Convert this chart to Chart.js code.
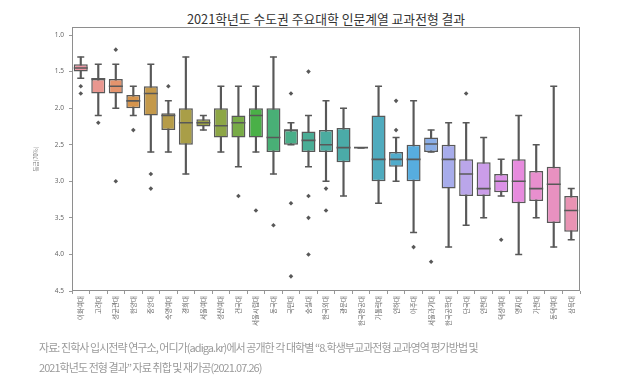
<!DOCTYPE html>
<html>
<head>
<meta charset="utf-8">
<script src="https://cdn.jsdelivr.net/npm/chart.js@4.4.1/dist/chart.umd.min.js"></script>
<style>
  body { margin: 0; background: #fff; width: 631px; height: 390px; overflow: hidden; position: relative;
         font-family: "Noto Sans CJK KR", "Noto Sans", sans-serif; }
  #title { position: absolute; top: 9px; left: 0; width: 652px; text-align: center; font-size: 12.8px; color: #333; }
  #chart { position: absolute; top: 0; left: 0; }
  #source { position: absolute; top: 337px; left: 39px; font-size: 11px; line-height: 20px; color: #9a9a9a;
            letter-spacing: -0.95px; }
</style>
</head>
<body>
<div id="title">2021학년도 수도권 주요대학 인문계열 교과전형 결과</div>
<canvas id="chart" width="631" height="340"></canvas>
<div id="source">자료: 진학사 입시전략 연구소, 어디가(adiga.kr)에서 공개한 각 대학별 “8.학생부교과전형 교과영역 평가방법 및<br>2021학년도 전형 결과” 자료 취합 및 재가공(2021.07.26)</div>
<script>
// 대학 목록 (등급 순)
var universities = ['이화여대', '고려대', '성균관대', '한양대', '중앙대', '숙명여대', '경희대', '서울여대',
    '성신여대', '건국대', '서울시립대', '동국대', '국민대', '숭실대', '한국외대', '광운대', '한국항공대',
    '가톨릭대', '인하대', '아주대', '서울과기대', '한국공학대', '단국대', '인천대', '덕성여대', '명지대',
    '가천대', '동덕여대', '삼육대'];

// 상자그림 값 (등급 70% 컷)
var whiskerLow = [1.3, 1.4, 1.4, 1.7, 1.4, 1.9, 1.3, 2.1, 1.7, 1.7, 1.7, 1.3, 2.2, 2.1, 1.9, 2.0, 2.54,
    1.7, 2.4, 1.9, 2.3, 2.2, 2.2, 2.4, 2.7, 2.1, 2.5, 1.7, 3.1];
var q1 = [1.4, 1.6, 1.6, 1.82, 1.7, 2.07, 2.0, 2.15, 2.0, 2.1, 2.0, 2.0, 2.3, 2.32, 2.3, 2.27, 2.54,
    2.1, 2.6, 2.5, 2.4, 2.5, 2.7, 2.74, 2.9, 2.7, 2.86, 2.8, 3.2];
var medians = [1.45, 1.6, 1.7, 1.9, 1.8, 2.1, 2.2, 2.2, 2.24, 2.2, 2.1, 2.4, 2.3, 2.44, 2.5, 2.54, 2.54,
    2.7, 2.7, 2.7, 2.49, 2.7, 2.9, 3.1, 3.0, 3.0, 3.1, 3.04, 3.4];
var q3 = [1.5, 1.8, 1.8, 2.0, 2.1, 2.3, 2.5, 2.25, 2.4, 2.4, 2.4, 2.6, 2.5, 2.6, 2.6, 2.74, 2.54,
    3.0, 2.8, 3.0, 2.6, 3.1, 3.2, 3.2, 3.15, 3.3, 3.27, 3.57, 3.69];
var whiskerHigh = [1.59, 2.1, 2.0, 2.1, 2.6, 2.6, 2.9, 2.3, 2.6, 2.8, 2.6, 2.9, 2.5, 2.8, 3.0, 3.2, 2.54,
    3.3, 3.0, 3.7, 2.6, 3.9, 3.6, 3.5, 3.2, 4.0, 3.5, 3.9, 3.8];
var outliers = [[1.7, 1.8], [2.2], [1.2, 3.0], [2.3], [2.9, 3.1], [1.7], [], [], [], [3.2], [3.4], [3.6],
    [1.8, 3.3, 4.3], [1.5, 3.2, 3.5, 4.0], [3.1, 3.4], [], [], [], [1.9, 2.3], [3.9], [4.1], [], [1.8],
    [], [3.8], [], [], [], []];
var yTicks = [1.0, 1.5, 2.0, 2.5, 3.0, 3.5, 4.0, 4.5];

// seaborn husl 팔레트 흉내
var M = [[3.2406, -1.5372, -0.4986], [-0.9689, 1.8758, 0.0415], [0.0557, -0.2040, 1.0570]];
var kappa = 24389 / 27, epsilon = 216 / 24389;
function maxChroma(L, H) {
    var sub1 = Math.pow(L + 16, 3) / 1560896;
    var sub2 = sub1 > epsilon ? sub1 : L / kappa;
    var hrad = H / 180 * Math.PI, best = Infinity;
    M.forEach(function(m) {
        [0, 1].forEach(function(t) {
            var top1 = (284517 * m[0] - 94839 * m[2]) * sub2;
            var top2 = (838422 * m[2] + 769860 * m[1] + 731718 * m[0]) * L * sub2 - 769860 * t * L;
            var bottom = (632260 * m[2] - 126452 * m[1]) * sub2 + 126452 * t;
            var len = (top2 / bottom) / (Math.sin(hrad) - (top1 / bottom) * Math.cos(hrad));
            if (len > 0) best = Math.min(best, len);
        });
    });
    return best;
}
function huslToRgb(h, s, l) {
    var c = maxChroma(l, h) / 100 * s;
    var hr = h / 180 * Math.PI;
    var u = Math.cos(hr) * c, v = Math.sin(hr) * c;
    var Y = l <= 8 ? l / kappa : Math.pow((l + 16) / 116, 3);
    var vu = u / (13 * l) + 0.19784, vv = v / (13 * l) + 0.46834;
    var X = 9 * Y * vu / (4 * vv);
    var Z = (9 * Y - 15 * vv * Y - vv * X) / (3 * vv);
    return M.map(function(r) {
        var x = r[0] * X + r[1] * Y + r[2] * Z;
        x = x <= 0.0031308 ? 12.92 * x : 1.055 * Math.pow(x, 1 / 2.4) - 0.055;
        return Math.min(1, Math.max(0, x));
    });
}
function toHsl(rgb) {
    var r = rgb[0], g = rgb[1], b = rgb[2];
    var mx = Math.max(r, g, b), mn = Math.min(r, g, b), l = (mx + mn) / 2, h = 0, s = 0;
    if (mx !== mn) {
        var d = mx - mn;
        s = l > 0.5 ? d / (2 - mx - mn) : d / (mx + mn);
        if (mx === r) h = (g - b) / d + (g < b ? 6 : 0);
        else if (mx === g) h = (b - r) / d + 2;
        else h = (r - g) / d + 4;
        h *= 60;
    }
    return [h, s, l];
}
var n = universities.length;
var boxColors = universities.map(function(u, i) {
    var hue = ((i / n + 0.01) % 1) * 359;
    var hsl = toHsl(huslToRgb(hue, 0.9 * 99, 0.7 * 99));
    return 'hsl(' + hsl[0].toFixed(1) + ',' + (hsl[1] * 75).toFixed(1) + '%,' + (hsl[2] * 100).toFixed(1) + '%)';
});
var gray = '#585858';

var outlierPoints = [];
outliers.forEach(function(list, i) {
    list.forEach(function(v) { outlierPoints.push({x: universities[i], y: v}); });
});

var framePlugin = {
    id: 'frame',
    afterDraw: function(chart) {
        var a = chart.chartArea, ctx = chart.ctx;
        ctx.save();
        ctx.strokeStyle = '#8e8e8e';
        ctx.lineWidth = 1;
        ctx.strokeRect(a.left + 0.5, a.top + 0.5, a.right - a.left - 1, a.bottom - a.top - 1);
        ctx.restore();
    }
};

var ctx = document.getElementById('chart').getContext('2d');
var boxChart = new Chart(ctx, {
    type: 'bar',
    data: {
        labels: universities,
        datasets: [{
            type: 'line',
            label: '이상치',
            data: outlierPoints,
            showLine: false,
            pointStyle: 'rectRot',
            pointRadius: 2.3,
            pointBackgroundColor: gray,
            pointBorderColor: gray,
            pointBorderWidth: 0,
            order: 1
        }, {
            type: 'line',
            label: '중앙값',
            data: medians,
            showLine: false,
            pointStyle: 'line',
            pointRadius: 7,
            pointBorderColor: gray,
            pointBorderWidth: 1.6,
            order: 1
        }, {
            label: '상자',
            data: q1.map(function(v, i) { return [v, q3[i]]; }),
            backgroundColor: boxColors,
            borderColor: gray,
            borderWidth: 1.5,
            borderSkipped: false,
            barPercentage: 0.8,
            categoryPercentage: 1,
            grouped: false,
            order: 2
        }, {
            type: 'line',
            label: '상단',
            data: whiskerLow,
            showLine: false,
            pointStyle: 'line',
            pointRadius: 3.5,
            pointBorderColor: gray,
            pointBorderWidth: 1.5,
            order: 3
        }, {
            type: 'line',
            label: '하단',
            data: whiskerHigh,
            showLine: false,
            pointStyle: 'line',
            pointRadius: 3.5,
            pointBorderColor: gray,
            pointBorderWidth: 1.5,
            order: 3
        }, {
            label: '수염',
            data: whiskerLow.map(function(v, i) { return [v, whiskerHigh[i]]; }),
            backgroundColor: gray,
            borderWidth: 0,
            barThickness: 1.5,
            grouped: false,
            order: 4
        }]
    },
    options: {
        responsive: false,
        animation: false,
        devicePixelRatio: 1,
        layout: { padding: { top: 27, left: 33, right: 51, bottom: 4 } },
        plugins: { legend: { display: false }, tooltip: { enabled: false }, title: { display: false } },
        scales: {
            x: {
                grid: { drawOnChartArea: false, drawTicks: true, tickLength: 3, color: '#999' },
                border: { display: false },
                ticks: { autoSkip: false, minRotation: 90, maxRotation: 90, padding: 2, color: '#666',
                         font: { size: 6.5, family: '"Noto Sans CJK KR"' } },
                afterFit: function(scale) { scale.height = 45; }
            },
            y: {
                reverse: true,
                min: 0.89,
                max: 4.5,
                grid: { drawOnChartArea: false, drawTicks: true, tickLength: 3, color: '#999' },
                border: { display: false },
                afterBuildTicks: function(scale) {
                    scale.ticks = yTicks.map(function(v) { return {value: v}; });
                },
                ticks: { padding: 5, color: '#666', font: { size: 6.5, family: '"Noto Sans", sans-serif' },
                         callback: function(v) { return Number(v).toFixed(1); } },
                title: { display: true, text: '등급(70%)', color: '#777', padding: 0,
                         font: { size: 5.5, family: '"Noto Sans CJK KR"' } },
                afterFit: function(scale) { scale.width = 39; }
            }
        }
    },
    plugins: [framePlugin]
});
</script>
</body>
</html>
